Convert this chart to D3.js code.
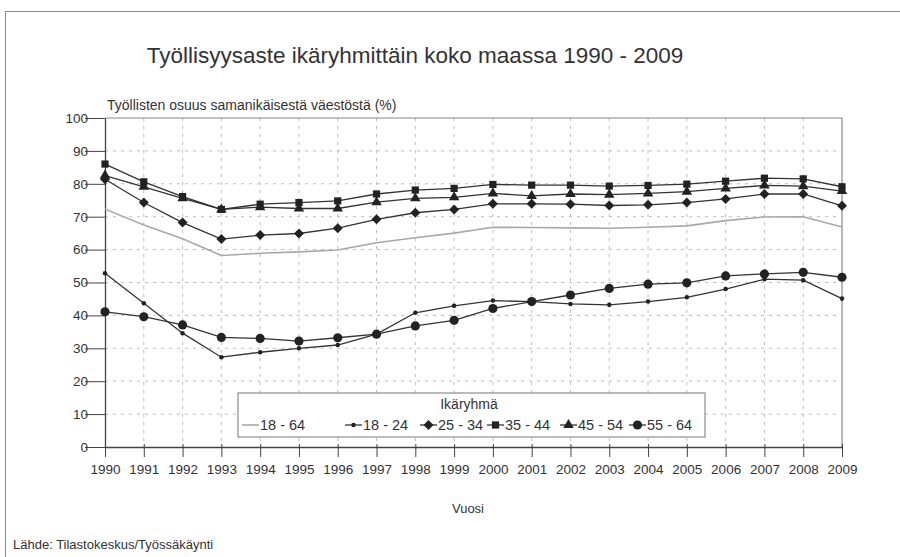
<!DOCTYPE html>
<html>
<head>
<meta charset="utf-8">
<script src="https://cdn.jsdelivr.net/npm/d3@7"></script>
<style>
  body { margin: 0; background: #fff; }
  text { font-family: "Liberation Sans", Arial, sans-serif; fill: #333; }
</style>
</head>
<body>
<div id="canvas"></div>
<script>
"use strict";

// data
const years = [1990, 1991, 1992, 1993, 1994, 1995, 1996, 1997, 1998, 1999,
               2000, 2001, 2002, 2003, 2004, 2005, 2006, 2007, 2008, 2009];
const yTicks = [0, 10, 20, 30, 40, 50, 60, 70, 80, 90, 100];

const age1864 = [72.3, 67.5, 63.3, 58.2, 58.9, 59.3, 59.9, 62.1, 63.6, 65.0,
                 66.8, 66.7, 66.6, 66.5, 66.8, 67.2, 68.8, 69.9, 70.0, 66.9];
const age1824 = [52.8, 43.7, 34.6, 27.3, 28.8, 30.0, 31.0, 34.3, 40.8, 42.9,
                 44.5, 44.2, 43.5, 43.2, 44.2, 45.5, 48.0, 51.0, 50.7, 45.1];
const age2534 = [81.4, 74.3, 68.2, 63.2, 64.4, 64.9, 66.5, 69.2, 71.2, 72.2,
                 73.9, 73.9, 73.8, 73.4, 73.6, 74.3, 75.4, 76.9, 76.9, 73.3];
const age3544 = [86.0, 80.6, 76.1, 72.2, 73.8, 74.3, 74.8, 76.9, 78.1, 78.6,
                 79.8, 79.6, 79.6, 79.3, 79.5, 79.9, 80.8, 81.7, 81.5, 79.1];
const age4554 = [82.5, 79.1, 75.6, 72.2, 72.9, 72.5, 72.5, 74.4, 75.6, 75.9,
                 77.1, 76.3, 76.9, 76.7, 77.1, 77.6, 78.6, 79.5, 79.3, 77.8];
const age5564 = [41.1, 39.6, 37.1, 33.3, 33.0, 32.2, 33.2, 34.3, 36.8, 38.5,
                 42.1, 44.2, 46.2, 48.2, 49.5, 49.9, 52.0, 52.6, 53.1, 51.6];

const seriesNames = ["18 - 64", "18 - 24", "25 - 34", "35 - 44", "45 - 54", "55 - 64"];

/* drawing config */
const svgWidth = 900;
const svgHeight = 557;
const plot = { left: 105, right: 842, top: 118, bottom: 447 };

const series = [
  { name: seriesNames[0], values: age1864, color: "#a8a8a8", width: 1.6, marker: null },
  { name: seriesNames[1], values: age1824, color: "#333", width: 1.3, marker: "dot" },
  { name: seriesNames[2], values: age2534, color: "#333", width: 1.3, marker: "diamond" },
  { name: seriesNames[3], values: age3544, color: "#333", width: 1.3, marker: "square" },
  { name: seriesNames[4], values: age4554, color: "#333", width: 1.3, marker: "triangle" },
  { name: seriesNames[5], values: age5564, color: "#333", width: 1.3, marker: "circle" }
];

const svg = d3.select("#canvas")
  .append("svg")
  .attr("width", svgWidth)
  .attr("height", svgHeight);

// outer frame (runs off the right and bottom edges)
svg.append("rect")
  .attr("x", 5.5).attr("y", 11.5)
  .attr("width", 920).attr("height", 580)
  .attr("fill", "none")
  .attr("stroke", "#888");

const xScale = d3.scalePoint()
  .domain(years)
  .range([plot.left, plot.right]);

const yScale = d3.scaleLinear()
  .domain([0, 100])
  .range([plot.bottom, plot.top]);

// gridlines
const grid = svg.append("g").attr("stroke", "#bdbdbd").attr("stroke-dasharray", "3,5");
grid.selectAll("line.h")
  .data(yTicks.slice(1, -1))
  .enter().append("line")
  .attr("x1", plot.left).attr("x2", plot.right)
  .attr("y1", d => yScale(d)).attr("y2", d => yScale(d));
grid.selectAll("line.v")
  .data(years.slice(1, -1))
  .enter().append("line")
  .attr("x1", d => xScale(d)).attr("x2", d => xScale(d))
  .attr("y1", plot.top).attr("y2", plot.bottom);

// plot box top + right
svg.append("path")
  .attr("d", `M${plot.left},${plot.top}H${plot.right}V${plot.bottom}`)
  .attr("fill", "none")
  .attr("stroke", "#888")
  .attr("stroke-width", 1.2);

// axes
const xAxis = svg.append("g")
  .attr("transform", `translate(0,${plot.bottom})`)
  .call(d3.axisBottom(xScale).tickSize(10).tickSizeOuter(0).tickPadding(7));
const yAxis = svg.append("g")
  .attr("transform", `translate(${plot.left},0)`)
  .call(d3.axisLeft(yScale).tickValues(yTicks).tickSize(20).tickSizeOuter(0).tickPadding(4));

[xAxis, yAxis].forEach(a => {
  a.select(".domain").attr("stroke", "#444").attr("stroke-width", 1.3);
  a.selectAll(".tick line").attr("stroke", "#444");
  a.selectAll(".tick text")
    .attr("font-size", "13.5px")
    .attr("font-family", "'Liberation Sans', Arial, sans-serif")
    .attr("fill", "#333");
});
yAxis.selectAll(".tick text").attr("x", -17);
xAxis.selectAll(".tick line").attr("y1", -3);

// lines
const line = d3.line()
  .x((d, i) => xScale(years[i]))
  .y(d => yScale(d));

// diamond drawn as a square turned 45 degrees
const diamond = { draw(ctx, size) { const r = Math.sqrt(size / 2); ctx.moveTo(0, -r); ctx.lineTo(r, 0); ctx.lineTo(0, r); ctx.lineTo(-r, 0); ctx.closePath(); } };

const symbols = {
  dot: d3.symbol().type(d3.symbolCircle).size(16),
  diamond: d3.symbol().type(diamond).size(50),
  square: d3.symbol().type(d3.symbolSquare).size(52),
  triangle: d3.symbol().type(d3.symbolTriangle).size(48),
  circle: d3.symbol().type(d3.symbolCircle).size(66)
};

series.forEach(s => {
  svg.append("path")
    .datum(s.values)
    .attr("d", line)
    .attr("fill", "none")
    .attr("stroke", s.color)
    .attr("stroke-width", s.width);
  if (s.marker) {
    svg.selectAll(null)
      .data(s.values)
      .enter().append("path")
      .attr("d", symbols[s.marker]())
      .attr("transform", (d, i) => `translate(${xScale(years[i])},${yScale(d)})`)
      .attr("fill", "#222");
  }
});

// legend
const legend = svg.append("g").attr("transform", "translate(238,393)");
legend.append("rect")
  .attr("width", 467).attr("height", 44)
  .attr("fill", "#fff")
  .attr("stroke", "#777");
legend.append("text")
  .attr("x", 231).attr("y", 16)
  .attr("text-anchor", "middle")
  .attr("font-size", "14px")
  .text("Ikäryhmä");

const legendX = [4, 107, 182, 249, 322, 391];
series.forEach((s, i) => {
  const item = legend.append("g").attr("transform", `translate(${legendX[i]},32)`);
  item.append("line")
    .attr("x1", 0).attr("x2", 17)
    .attr("stroke", s.color)
    .attr("stroke-width", s.width);
  if (s.marker) {
    item.append("path")
      .attr("d", symbols[s.marker]())
      .attr("transform", "translate(8.5,0)")
      .attr("fill", "#222");
  }
  item.append("text")
    .attr("x", 18).attr("y", 5)
    .attr("font-size", "14.5px")
    .text(s.name);
});

// titles
svg.append("text")
  .attr("x", 415).attr("y", 63)
  .attr("text-anchor", "middle")
  .attr("font-size", "22.5px")
  .text("Työllisyysaste ikäryhmittäin koko maassa 1990 - 2009");

svg.append("text")
  .attr("x", 107).attr("y", 110)
  .attr("font-size", "14px")
  .text("Työllisten osuus samanikäisestä väestöstä (%)");

svg.append("text")
  .attr("x", 468).attr("y", 513)
  .attr("text-anchor", "middle")
  .attr("font-size", "13px")
  .text("Vuosi");

svg.append("text")
  .attr("x", 13).attr("y", 549)
  .attr("font-size", "13px")
  .text("Lähde: Tilastokeskus/Työssäkäynti");
</script>
</body>
</html>
